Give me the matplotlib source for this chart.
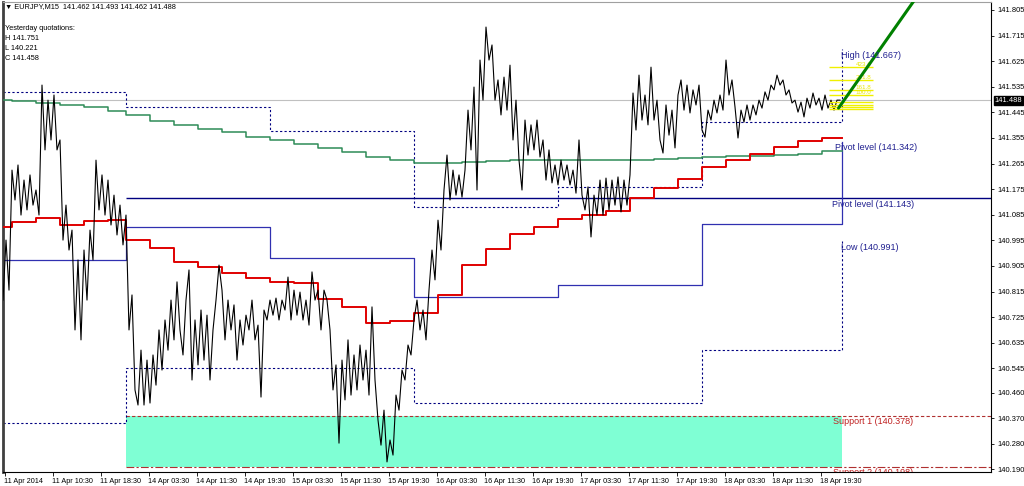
import matplotlib
matplotlib.use("Agg")
import matplotlib.pyplot as plt
import numpy as np

plt.rcParams['font.family'] = ['Liberation Sans', 'DejaVu Sans']

# ---------------- data ----------------
# EURJPY M15 price path, one value every 2 bars (zig-zag through swing highs/lows)
close = [
    140.785, 140.996, 140.820, 141.242, 141.137, 141.260, 141.084, 141.207, 141.102, 141.225,
    141.119, 141.172, 141.084, 141.541, 141.313, 141.488, 141.348, 141.506, 141.313, 141.348,
    140.996, 141.119, 140.961, 141.031, 140.680, 140.926, 140.645, 140.961, 140.785, 141.031,
    140.926, 141.277, 141.102, 141.225, 141.084, 141.207, 141.049, 141.154, 141.014, 141.119,
    140.979, 141.084,
    140.680, 140.803, 140.469, 140.416, 140.609, 140.416, 140.574, 140.423, 140.592, 140.486,
    140.680, 140.539, 140.715, 140.609, 140.785, 140.645, 140.849, 140.680, 140.592, 140.785,
    140.891, 140.504, 140.715, 140.557, 140.750, 140.574, 140.732, 140.504, 140.680, 140.785,
    140.908, 140.820, 140.645, 140.785, 140.680, 140.768, 140.574, 140.715, 140.627, 140.732,
    140.680, 140.785, 140.645, 140.697, 140.444, 140.750, 140.715, 140.785, 140.732, 140.792,
    140.715, 140.785, 140.750, 140.866, 140.715, 140.820, 140.732, 140.813, 140.715, 140.785,
    140.697, 140.884, 140.785, 140.820, 140.680, 140.820, 140.785, 140.680, 140.469, 140.557,
    140.282, 140.574, 140.434, 140.645, 140.451, 140.592, 140.469, 140.627, 140.504, 140.609,
    140.451, 140.761, 140.504, 140.363, 140.275, 140.398, 140.216, 140.293, 140.240, 140.451,
    140.398, 140.539, 140.504, 140.627, 140.592, 140.715, 140.785,
    140.680, 140.750, 140.645, 140.820, 140.961, 140.856, 141.066, 140.961, 141.172, 141.295,
    141.137, 141.242, 141.154, 141.225, 141.147, 141.242, 141.453, 141.313, 141.534, 141.172,
    141.629, 141.488, 141.745, 141.629, 141.682, 141.488, 141.559, 141.436, 141.569, 141.453,
    141.611, 141.348, 141.488, 141.277, 141.172, 141.418, 141.295, 141.401, 141.313, 141.418,
    141.288, 141.348, 141.207, 141.313, 141.197, 141.260, 141.190, 141.277, 141.207, 141.260,
    141.190, 141.242, 141.161, 141.348, 141.154, 141.102, 141.183, 141.007, 141.154, 141.084,
    141.207, 141.084, 141.214, 141.102, 141.207, 141.119, 141.218, 141.095, 141.207, 141.119,
    141.225, 141.513, 141.383, 141.576, 141.418, 141.506, 141.401, 141.604, 141.418, 141.488,
    141.348, 141.302, 141.471, 141.365, 141.453, 141.320, 141.506, 141.559, 141.453, 141.541,
    141.443, 141.524, 141.471, 141.541, 141.383, 141.358, 141.453, 141.418, 141.488, 141.443,
    141.506, 141.453, 141.629, 141.506, 141.559, 141.464, 141.355, 141.453, 141.411, 141.471,
    141.418, 141.471, 141.436, 141.488, 141.460, 141.517, 141.488, 141.541, 141.524, 141.576,
    141.541, 141.559, 141.506, 141.524, 141.478, 141.488, 141.446, 141.481, 141.429, 141.495,
    141.460, 141.513, 141.471, 141.495, 141.453, 141.506, 141.460, 141.488, 141.453, 141.488,
    141.488,
]

# H4 moving averages (one value per H4 bar)
red_ma = [
    141.042, 141.059, 141.073, 141.049, 141.063, 141.066, 140.996, 140.968, 140.919, 140.901,
    140.880, 140.863, 140.849, 140.845, 140.789, 140.761, 140.704, 140.711, 140.739, 140.803,
    140.908, 140.965, 141.017, 141.042, 141.070, 141.084, 141.098, 141.144, 141.179, 141.211,
    141.253, 141.277, 141.299, 141.323, 141.344, 141.355,
]
green_ma = [
    141.488, 141.485, 141.479, 141.471, 141.464, 141.451, 141.436, 141.416, 141.401, 141.386,
    141.376, 141.359, 141.348, 141.334, 141.320, 141.306, 141.288, 141.277, 141.267, 141.267,
    141.270, 141.274, 141.276, 141.276, 141.276, 141.276, 141.276, 141.277, 141.282, 141.284,
    141.288, 141.290, 141.293, 141.295, 141.299, 141.309,
]

# daily levels (one value per trading day) + levels for the next day
daily_pivot = [140.926, 141.042, 140.933, 140.796, 140.838, 141.052]
day_high = [141.517, 141.464, 141.379, 141.112, 141.183, 141.411]
day_low = [140.353, 140.546, 140.546, 140.423, 140.423, 140.609]
next_pivot = 141.342
next_high = 141.667
next_low = 140.991
weekly_pivot = 141.143
support1 = 140.378
support2 = 140.198

# Fibonacci expansion levels (yellow)
fib_levels = [141.604, 141.559, 141.524, 141.506, 141.482, 141.471, 141.464, 141.457]
fib_names = ["423.6", "261.8", "161.8", "100.0", "", "", "", ""]

# trend line anchors (bar, price)
trend_bars = [557, 607]
trend_prices = [141.460, 141.835]

header_ohlc = [141.462, 141.493, 141.462, 141.488]
yesterday = {"H": 141.751, "L": 140.221, "C": 141.458}

y_ticks = [141.805, 141.715, 141.625, 141.535, 141.445, 141.355, 141.265, 141.175, 141.085,
           140.995, 140.905, 140.815, 140.725, 140.635, 140.545, 140.460, 140.370, 140.280, 140.190]
x_labels = ["11 Apr 2014", "11 Apr 10:30", "11 Apr 18:30", "14 Apr 03:30", "14 Apr 11:30",
            "14 Apr 19:30", "15 Apr 03:30", "15 Apr 11:30", "15 Apr 19:30", "16 Apr 03:30",
            "16 Apr 11:30", "16 Apr 19:30", "17 Apr 03:30", "17 Apr 11:30", "17 Apr 19:30",
            "18 Apr 03:30", "18 Apr 11:30", "18 Apr 19:30"]

# ---------------- time structure (in M15 bars) ----------------
bars = np.arange(len(close)) * 2
last_bar = bars[-1] + 1
h4_starts = [0, 6, 22, 38, 54, 70] + list(range(82, 547, 16))
day_start = [0, 82, 178, 274, 370, 466]
x_ticks = [1 + 32 * k for k in range(len(x_labels))]

# ---------------- figure ----------------
W, H = 1024, 486
fig = plt.figure(figsize=(W / 100, H / 100), dpi=100)
ax = fig.add_axes([3 / W, 14 / H, 988 / W, 470 / H])
xmax = 988 / 1.5
ax.set_xlim(0, xmax)
ax.set_ylim(140.1805, 141.8331)

# support zone
ax.fill_between([day_start[1], last_bar], support2, support1, color='#7fffd4', lw=0, zorder=1)
ax.hlines(support1, day_start[1], xmax, colors='#b03030', linestyles=(0, (3, 2)), lw=0.8, zorder=2)
ax.hlines(support2, day_start[1], xmax, colors='#b03030', linestyles=(0, (7, 2, 2, 2)), lw=0.8, zorder=2)

# current price line
ax.axhline(close[-1], color='#c0c0c0', lw=0.8, zorder=1.5)

# weekly pivot
ax.hlines(weekly_pivot, day_start[1], xmax, colors='#000080', lw=1.0, zorder=2)

# daily pivot / high / low
xs_day = day_start + [last_bar]
ax.step(xs_day, daily_pivot + [next_pivot], where='post', color='#3030b0', lw=0.9, zorder=2)
ax.step(xs_day, day_high + [next_high], where='post', color='#000080', lw=0.8,
        linestyle=(0, (2, 2)), zorder=2)
ax.step(xs_day, day_low + [next_low], where='post', color='#000080', lw=0.8,
        linestyle=(0, (2, 2)), zorder=2)

# moving averages
xs_h4 = h4_starts + [last_bar]
ax.step(xs_h4, green_ma + [green_ma[-1]], where='post', color='#2e8b57', lw=1.1, zorder=3)
ax.step(xs_h4, red_ma + [red_ma[-1]], where='post', color='#e00000', lw=1.4, zorder=3)

# price
ax.plot(bars, close, color='black', lw=0.8, zorder=4)

# fibonacci
fx0, fx1 = 550.7, 580
ax.hlines(fib_levels, fx0, fx1, colors='#f0f000', lw=1.0, zorder=5)
for lv, nm in zip(fib_levels, fib_names):
    if nm:
        ax.text(fx1 - 1, lv, nm, color='#e8e800', fontsize=4.5, ha='right', va='bottom', zorder=5)

# trend line
ax.plot(trend_bars, trend_prices, color='#008000', lw=2.2, zorder=6, solid_capstyle='round')

# labels on the right
def lab(xbar, level, txt, color):
    ax.annotate(txt, xy=(xbar, level), xytext=(0, -4.3), textcoords='offset points',
                fontsize=6.5, color=color, ha='left', va='center', zorder=7)

lab(558.7, next_high, f"High ({next_high:.3f})", '#202090')
lab(554.7, next_pivot, f"Pivot level ({next_pivot:.3f})", '#202090')
lab(552.7, weekly_pivot, f"Pivot level ({weekly_pivot:.3f})", '#202090')
lab(558.7, next_low, f"Low ({next_low:.3f})", '#202090')
lab(553.3, support1, f"Support 1 ({support1:.3f})", '#c02020')
ax.annotate(f"Support 2 ({support2:.3f})", xy=(553.3, support2), xytext=(0, -4.3),
            textcoords='offset points', fontsize=6.5, color='#c02020', ha='left',
            va='center', annotation_clip=True, clip_on=True, zorder=7)

# axes styling
ax.yaxis.tick_right()
ax.set_yticks(y_ticks)
ax.set_yticklabels([f"{v:.3f}" for v in y_ticks])
ax.tick_params(axis='y', length=2.5, width=0.6, pad=2, labelsize=5.4, direction='out')
ax.set_xticks(x_ticks)
ax.set_xticklabels(x_labels, ha='left')
ax.tick_params(axis='x', length=3, width=0.6, pad=1.5, labelsize=5.2, direction='out')
for s in ['bottom', 'right']:
    ax.spines[s].set_color('black')
    ax.spines[s].set_linewidth(0.8)
ax.spines['left'].set_color('#404040')
ax.spines['left'].set_linewidth(2)
ax.spines['top'].set_color('#a0a0a0')
ax.spines['top'].set_linewidth(0.8)

# current price box on the axis
ax.annotate(f"{close[-1]:.3f}", xy=(1, close[-1]), xycoords=('axes fraction', 'data'),
            xytext=(2.5, 0), textcoords='offset points', fontsize=5.4, color='white',
            ha='left', va='center', annotation_clip=False,
            bbox=dict(boxstyle='square,pad=0.12', fc='black', ec='black'))

# header texts
o, h, l, c = header_ohlc
fig.text(5 / W, 1 - 7 / H, f"\u25bc EURJPY,M15  {o:.3f} {h:.3f} {l:.3f} {c:.3f}",
         fontsize=5.3, va='center', ha='left')
fig.text(5 / W, 1 - 29 / H, "Yesterday quotations:", fontsize=5.3, va='center', ha='left')
for k, (key, val) in enumerate(yesterday.items()):
    fig.text(5 / W, 1 - (39 + 10 * k) / H, f"{key} {val:.3f}", fontsize=5.3, va='center', ha='left')

fig.savefig("out.png", dpi=100, facecolor='white')
